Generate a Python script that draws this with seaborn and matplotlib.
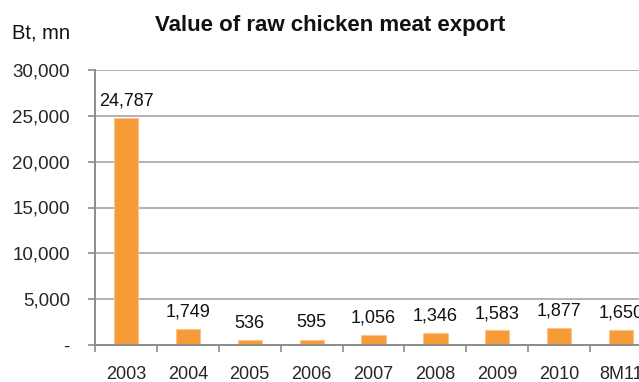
import matplotlib
matplotlib.use("Agg")
import matplotlib.pyplot as plt
import seaborn as sns
import pandas as pd
from matplotlib.ticker import FuncFormatter

categories = ["2003", "2004", "2005", "2006", "2007", "2008", "2009", "2010", "8M11"]
values = [24787, 1749, 536, 595, 1056, 1346, 1583, 1877, 1650]
title = "Value of raw chicken meat export"
y_label = "Bt, mn"

sns.set_theme(style="white")
plt.rcParams['font.family'] = ['Liberation Sans', 'DejaVu Sans']

df = pd.DataFrame({"cat": categories, "val": values})

fig = plt.figure(figsize=(6.39, 3.82), dpi=100)
ax = fig.add_axes([95/639, 1-345/382, 1-95/639, (345-70)/382])

sns.barplot(data=df, x="cat", y="val", ax=ax, color="#F79A38", width=0.39,
            edgecolor="#FBC48C", linewidth=0.8, saturation=1)

ax.set_yticks(range(0, 30001, 5000))
ax.yaxis.set_major_formatter(FuncFormatter(lambda v, p: "-" if v == 0 else f"{int(v):,}"))
ax.grid(axis="y", color="#A6A6A6", linewidth=1.2)
ax.set_axisbelow(True)
for s in ["top", "right"]:
    ax.spines[s].set_visible(False)
for s in ["left", "bottom"]:
    ax.spines[s].set_color("#8C8C8C")
    ax.spines[s].set_linewidth(1.4)

ax.set_xticks([i - 0.5 for i in range(len(categories) + 1)], minor=False)
ax.set_xticklabels([])
ax.set_xticks(range(len(categories)), minor=True)
ax.set_xticklabels(categories, minor=True, fontsize=13)
ax.tick_params(axis="x", which="major", direction="out", length=5, width=1.2,
               color="#8C8C8C", bottom=True)
ax.tick_params(axis="x", which="minor", length=0, pad=15)
ax.tick_params(axis="y", direction="out", length=5, width=1.2, color="#8C8C8C",
               left=True, labelsize=13.5, pad=13)
ax.set_xlabel("")
ax.set_ylabel("")

ax.set_ylim(0, 30000)
ax.set_xlim(-0.5, (639-95)/61.9 - 0.5)

for i, v in enumerate(values):
    ax.annotate(f"{v:,}", (i, v), xytext=(0, 6), textcoords="offset points",
                ha="center", va="bottom", fontsize=13, color="#111111",
                annotation_clip=False)

fig.text(330/639, 1-25/382, title, ha="center", va="center",
         fontsize=16, fontweight="bold", color="#111111")
fig.text(12/639, 1-33/382, y_label, ha="left", va="center", fontsize=14.5,
         color="#111111")

fig.savefig("out.png", dpi=100)
